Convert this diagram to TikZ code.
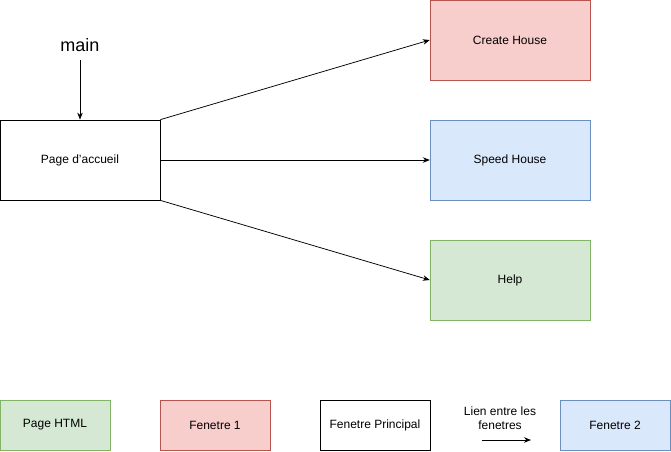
\documentclass[tikz,border=0pt]{standalone}
\usepackage{fontspec}
\setmainfont{Liberation Sans}
\usepackage{tikz}
\usetikzlibrary{arrows.meta}

\definecolor{vertfond}{HTML}{D5E8D4}
\definecolor{vertbord}{HTML}{82B366}
\definecolor{rougefond}{HTML}{F8CECC}
\definecolor{rougebord}{HTML}{B85450}
\definecolor{bleufond}{HTML}{DAE8FC}
\definecolor{bleubord}{HTML}{6C8EBF}

\tikzset{
  fenetre/.style={draw, minimum width=160pt, minimum height=80pt, inner sep=0pt, font=\fontsize{12}{14}\selectfont},
  legende/.style={fenetre, minimum width=110pt, minimum height=50pt},
  lien/.style={-{Stealth[length=7pt, width=5.5pt]}, line width=0.75pt}
}

\begin{document}
\begin{tikzpicture}[x=1pt, y=-1pt]
\useasboundingbox (0,0) rectangle (671,451);
\node[fenetre, line width=0.75pt] (accueil) at (80,160) {Page d'accueil};
\node[font=\fontsize{18}{20}\selectfont] (main) at (80,45) {main};
\coordinate (depart) at (80,60);
\node[fenetre, fill=rougefond, draw=rougebord] (create) at (510,40) {Create House};
\node[fenetre, fill=bleufond, draw=bleubord] (speed) at (510,160) {Speed House};
\node[fenetre, fill=vertfond, draw=vertbord] (help) at (510,280) {Help};
\draw[lien] (depart) -- (accueil);
\draw[lien] (accueil.north east) -- (create.west);
\draw[lien] (accueil.east) -- (speed.west);
\draw[lien] (accueil.south east) -- (help.west);
% legende
\node[legende, fill=vertfond, draw=vertbord] (html) at (55,425) {Page HTML};
\node[legende, fill=rougefond, draw=rougebord] (f1) at (215,425) {Fenetre 1};
\node[legende] (fp) at (375,425) {Fenetre Principal};
\node[legende, fill=bleufond, draw=bleubord] (f2) at (615,425) {Fenetre 2};
\node[align=center, font=\fontsize{12}{14}\selectfont] (texte) at (500,418) {Lien entre les\\fenetres};
\coordinate (l1) at (482,440);
\coordinate (l2) at (531,440);
\draw[lien] (l1) -- (l2);
\end{tikzpicture}
\end{document}
